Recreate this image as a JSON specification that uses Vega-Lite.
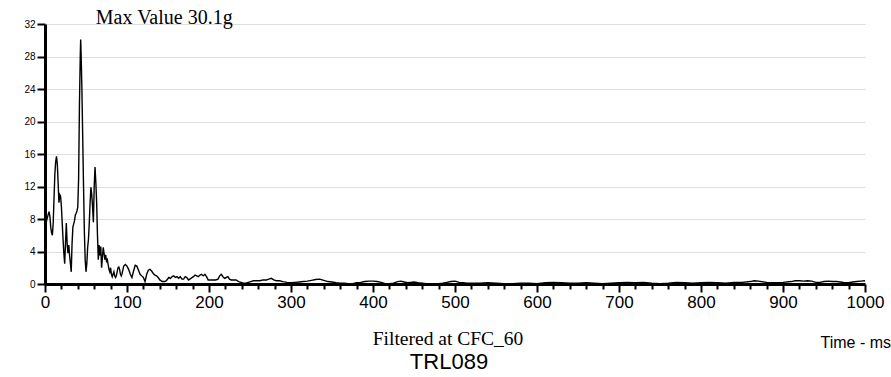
{
  "$schema": "https://vega.github.io/schema/vega-lite/v6.json",
  "width": 820,
  "height": 260,
  "autosize": {"type": "none"},
  "padding": {"left": 45, "top": 24, "right": 26, "bottom": 93},
  "background": "white",
  "config": {"view": {"stroke": null}},
  "encoding": {
    "x": {"field": "t", "type": "quantitative", "scale": {"domain": [0, 1000], "nice": false},
      "axis": {"values": [0,20,40,60,80,100,120,140,160,180,200,220,240,260,280,300,320,340,360,380,400,420,440,460,480,500,520,540,560,580,600,620,640,660,680,700,720,740,760,780,800,820,840,860,880,900,920,940,960,980,1000],
        "labelExpr": "datum.value % 100 === 0 ? datum.label : ''", "format": "d", "grid": false,
        "tickSize": {"condition": {"test": "datum.value % 100 === 0", "value": 8}, "value": 5}, "tickWidth": 2, "tickColor": "black", "domainWidth": 3, "domainColor": "black",
        "labelFont": "Liberation Sans", "labelFontSize": 17, "labelPadding": 2, "labelFlush": false,
        "title": "Time - ms", "titleFont": "Liberation Sans", "titleFontSize": 16, "titleFontWeight": "normal", "titleX": 775, "titleY": 58, "titleAlign": "left", "titleBaseline": "middle"}},
    "y": {"field": "g", "type": "quantitative", "scale": {"domain": [0, 32], "nice": false},
      "axis": {"values": [0,4,8,12,16,20,24,28,32], "tickSize": 8, "tickWidth": 2, "tickColor": "black", "domainWidth": 3, "domainColor": "black", "title": null}}
  },
  "layer": [
    {
      "data": {"values": [
        {"t":0,"g":7.2},{"t":2,"g":7.8},{"t":4,"g":8.6},{"t":5,"g":8.9},{"t":6,"g":8.3},{"t":7,"g":7.0},{"t":8,"g":6.3},{"t":9,"g":6.0},{"t":10,"g":7.5},{"t":11,"g":10.5},{"t":12,"g":13.5},{"t":13,"g":15.0},{"t":14,"g":15.7},{"t":15,"g":14.8},{"t":16,"g":12.5},{"t":17,"g":10.0},{"t":18,"g":11.0},{"t":19,"g":10.8},{"t":20,"g":9.5},{"t":21,"g":7.5},{"t":22,"g":5.5},{"t":23,"g":3.8},{"t":24,"g":2.5},{"t":25,"g":5.0},{"t":26,"g":7.5},{"t":27,"g":5.0},{"t":28,"g":3.8},{"t":29,"g":4.8},{"t":30,"g":3.5},{"t":31,"g":2.5},{"t":32,"g":1.5},{"t":33,"g":5.0},{"t":34,"g":7.0},{"t":35,"g":7.4},{"t":36,"g":7.8},{"t":37,"g":8.5},{"t":38,"g":8.7},{"t":39,"g":9.0},{"t":40,"g":9.5},{"t":41,"g":13.0},{"t":42,"g":22.0},{"t":43,"g":28.0},{"t":43.5,"g":30.1},{"t":44,"g":28.5},{"t":45,"g":24.0},{"t":46,"g":18.0},{"t":47,"g":12.0},{"t":48,"g":6.5},{"t":49,"g":3.0},{"t":50,"g":1.5},{"t":51,"g":2.5},{"t":52,"g":4.5},{"t":53,"g":5.5},{"t":54,"g":7.5},{"t":55,"g":10.0},{"t":56,"g":11.9},{"t":57,"g":11.0},{"t":58,"g":9.5},{"t":59,"g":7.6},{"t":60,"g":12.0},{"t":61,"g":14.4},{"t":62,"g":12.5},{"t":63,"g":10.0},{"t":64,"g":6.0},{"t":65,"g":3.0},{"t":66,"g":4.8},{"t":67,"g":3.5},{"t":68,"g":4.6},{"t":69,"g":2.0},{"t":70,"g":3.2},{"t":71,"g":4.5},{"t":72,"g":3.8},{"t":73,"g":3.0},{"t":74,"g":3.6},{"t":75,"g":2.8},{"t":76,"g":3.0},{"t":77,"g":2.4},{"t":78,"g":1.8},{"t":79,"g":1.5},{"t":80,"g":2.0},{"t":81,"g":1.2},{"t":82,"g":0.9},{"t":83,"g":1.2},{"t":84,"g":1.5},{"t":85,"g":1.0},{"t":86,"g":0.8},{"t":87,"g":1.0},{"t":89,"g":2.0},{"t":90,"g":2.1},{"t":91,"g":1.8},{"t":92,"g":1.2},{"t":93,"g":1.0},{"t":94,"g":1.3},{"t":96,"g":2.2},{"t":98,"g":2.4},{"t":100,"g":2.2},{"t":102,"g":1.8},{"t":104,"g":1.2},{"t":106,"g":0.8},{"t":108,"g":1.6},{"t":110,"g":2.3},{"t":112,"g":2.2},{"t":114,"g":1.7},{"t":116,"g":1.2},{"t":118,"g":1.0},{"t":120,"g":0.8},{"t":122,"g":0.3},{"t":124,"g":1.2},{"t":126,"g":1.7},{"t":128,"g":1.8},{"t":130,"g":1.6},{"t":132,"g":1.3},{"t":134,"g":1.1},{"t":136,"g":1.0},{"t":138,"g":0.8},{"t":140,"g":0.5},{"t":143,"g":0.3},{"t":146,"g":0.3},{"t":148,"g":0.4},{"t":151,"g":0.8},{"t":153,"g":0.7},{"t":155,"g":0.9},{"t":157,"g":1.0},{"t":159,"g":0.8},{"t":161,"g":0.9},{"t":163,"g":0.7},{"t":165,"g":0.9},{"t":167,"g":0.6},{"t":169,"g":0.6},{"t":171,"g":0.9},{"t":173,"g":0.8},{"t":175,"g":0.5},{"t":178,"g":0.7},{"t":181,"g":0.9},{"t":183,"g":1.1},{"t":185,"g":1.0},{"t":187,"g":0.9},{"t":189,"g":1.1},{"t":191,"g":1.2},{"t":193,"g":1.0},{"t":195,"g":1.2},{"t":197,"g":0.9},{"t":199,"g":0.5},{"t":202,"g":0.5},{"t":205,"g":0.5},{"t":208,"g":0.5},{"t":211,"g":0.6},{"t":213,"g":1.0},{"t":215,"g":1.2},{"t":217,"g":0.9},{"t":219,"g":0.7},{"t":221,"g":0.8},{"t":223,"g":0.9},{"t":225,"g":0.6},{"t":227,"g":0.5},{"t":230,"g":0.5},{"t":233,"g":0.5},{"t":236,"g":0.3},{"t":239,"g":0.2},{"t":242,"g":0.1},{"t":245,"g":0.1},{"t":248,"g":0.2},{"t":251,"g":0.3},{"t":254,"g":0.4},{"t":258,"g":0.4},{"t":262,"g":0.4},{"t":266,"g":0.5},{"t":270,"g":0.5},{"t":273,"g":0.6},{"t":276,"g":0.7},{"t":279,"g":0.5},{"t":282,"g":0.4},{"t":286,"g":0.4},{"t":290,"g":0.3},{"t":295,"g":0.2},{"t":300,"g":0.15},{"t":305,"g":0.2},{"t":310,"g":0.25},{"t":315,"g":0.3},{"t":320,"g":0.35},{"t":325,"g":0.45},{"t":330,"g":0.55},{"t":335,"g":0.6},{"t":340,"g":0.45},{"t":345,"g":0.3},{"t":350,"g":0.25},{"t":355,"g":0.15},{"t":360,"g":0.1},{"t":365,"g":0.1},{"t":370,"g":0.05},{"t":375,"g":0.05},{"t":380,"g":0.15},{"t":385,"g":0.2},{"t":390,"g":0.3},{"t":395,"g":0.35},{"t":400,"g":0.35},{"t":405,"g":0.3},{"t":410,"g":0.2},{"t":415,"g":0.05},{"t":420,"g":0.05},{"t":425,"g":0.1},{"t":430,"g":0.3},{"t":434,"g":0.35},{"t":438,"g":0.25},{"t":442,"g":0.15},{"t":446,"g":0.2},{"t":450,"g":0.25},{"t":455,"g":0.15},{"t":460,"g":0.1},{"t":465,"g":0.05},{"t":470,"g":0.02},{"t":475,"g":0.05},{"t":480,"g":0.05},{"t":485,"g":0.1},{"t":490,"g":0.2},{"t":495,"g":0.3},{"t":500,"g":0.35},{"t":505,"g":0.2},{"t":510,"g":0.15},{"t":515,"g":0.1},{"t":520,"g":0.1},{"t":530,"g":0.1},{"t":540,"g":0.15},{"t":550,"g":0.1},{"t":560,"g":0.05},{"t":570,"g":0.05},{"t":580,"g":0.1},{"t":590,"g":0.1},{"t":600,"g":0.05},{"t":610,"g":0.15},{"t":620,"g":0.2},{"t":630,"g":0.15},{"t":640,"g":0.1},{"t":650,"g":0.1},{"t":660,"g":0.15},{"t":670,"g":0.1},{"t":680,"g":0.05},{"t":690,"g":0.1},{"t":700,"g":0.15},{"t":710,"g":0.2},{"t":720,"g":0.15},{"t":730,"g":0.2},{"t":740,"g":0.1},{"t":750,"g":0.05},{"t":760,"g":0.1},{"t":770,"g":0.2},{"t":780,"g":0.15},{"t":790,"g":0.1},{"t":800,"g":0.15},{"t":810,"g":0.2},{"t":820,"g":0.15},{"t":830,"g":0.1},{"t":840,"g":0.2},{"t":850,"g":0.2},{"t":860,"g":0.3},{"t":865,"g":0.4},{"t":870,"g":0.35},{"t":880,"g":0.2},{"t":890,"g":0.15},{"t":900,"g":0.2},{"t":910,"g":0.3},{"t":915,"g":0.4},{"t":920,"g":0.4},{"t":925,"g":0.35},{"t":930,"g":0.4},{"t":935,"g":0.35},{"t":940,"g":0.2},{"t":945,"g":0.2},{"t":950,"g":0.3},{"t":955,"g":0.35},{"t":960,"g":0.3},{"t":965,"g":0.3},{"t":970,"g":0.25},{"t":975,"g":0.15},{"t":980,"g":0.15},{"t":985,"g":0.25},{"t":990,"g":0.3},{"t":995,"g":0.35},{"t":1000,"g":0.4}
      ]},
      "mark": {"type": "line", "color": "black", "strokeWidth": 1.4}
    },
    {
      "data": {"values": [{"t": 62, "g": 32.7, "note": "Max Value 30.1g"}]},
      "mark": {"type": "text", "align": "left", "baseline": "middle", "font": "Liberation Serif", "fontSize": 20, "color": "black"},
      "encoding": {"text": {"field": "note", "type": "nominal"}}
    },
    {
      "data": {"values": [{"t": 491.5, "g": -6.77, "note": "Filtered at CFC_60"}]},
      "mark": {"type": "text", "align": "center", "baseline": "middle", "font": "Liberation Serif", "fontSize": 19.5, "color": "black"},
      "encoding": {"text": {"field": "note", "type": "nominal"}}
    },
    {
      "data": {"values": [{"t": 492.7, "g": -9.6, "note": "TRL089"}]},
      "mark": {"type": "text", "align": "center", "baseline": "middle", "font": "Liberation Sans", "fontSize": 22, "color": "black"},
      "encoding": {"text": {"field": "note", "type": "nominal"}}
    }
  ]
}
